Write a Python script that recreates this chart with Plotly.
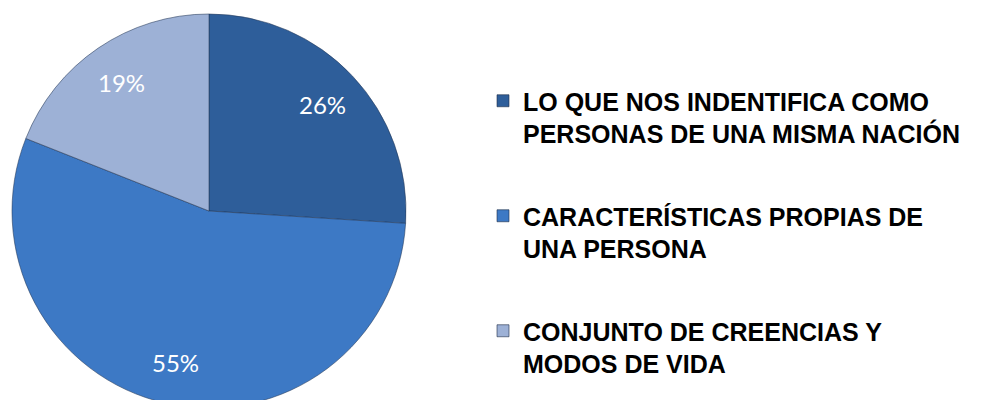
import math
import plotly.graph_objects as go

labels = [
    "LO QUE NOS INDENTIFICA COMO<br>PERSONAS DE UNA MISMA NACIÓN",
    "CARACTERÍSTICAS PROPIAS DE<br>UNA PERSONA",
    "CONJUNTO DE CREENCIAS Y<br>MODOS DE VIDA",
]
values = [26, 55, 19]
colors = ["#2E5E9A", "#3D79C5", "#9DB1D6"]

W, H = 988, 416
cx, cy, R = 209, 211, 197  # pixel geometry of the pie

fig = go.Figure(go.Pie(
    labels=labels,
    values=values,
    sort=False,
    direction="clockwise",
    rotation=0,
    textinfo="none",
    hoverinfo="label+percent",
    showlegend=False,
    marker=dict(colors=colors, line=dict(color="rgba(35,55,85,0.55)", width=1)),
    domain=dict(x=[(cx - R) / W, (cx + R) / W], y=[(H - cy - R) / H, (H - cy + R) / H]),
))

# legend entries (one group per category so the gaps can be set)
for i, (lab, col) in enumerate(zip(labels, colors)):
    fig.add_trace(go.Scatter(
        x=[None], y=[None], mode="markers", name=lab, legendgroup=f"g{i}",
        marker=dict(symbol="square", size=12, color=col,
                    line=dict(color="rgba(30,45,70,0.6)", width=1)),
        hoverinfo="skip",
    ))

# percentage labels placed along each slice bisector
total = sum(values)
cum = 0
for v in values:
    ang = math.radians(90 - 360 * (cum + v / 2) / total)
    cum += v
    r = 0.79 * R
    px = cx + r * math.cos(ang)
    py = cy - r * math.sin(ang)
    fig.add_annotation(
        x=px / W, y=1 - py / H, xref="paper", yref="paper",
        xanchor="center", yanchor="middle",
        text=f"{round(100 * v / total)}%", showarrow=False,
        font=dict(family="Lato", size=24, color="white"),
    )

fig.update_layout(
    width=W, height=H,
    margin=dict(l=0, r=0, t=0, b=0),
    paper_bgcolor="white",
    plot_bgcolor="rgba(0,0,0,0)",
    xaxis=dict(visible=False),
    yaxis=dict(visible=False),
    showlegend=True,
    legend=dict(
        x=483 / W, y=1 - 78 / H, xanchor="left", yanchor="top",
        font=dict(family="Liberation Sans", size=25, color="black", weight="bold"),
        valign="top", tracegroupgap=47,
        bgcolor="rgba(0,0,0,0)",
    ),
)

fig.write_html(
    "out.html",
    config={"displayModeBar": False},
    post_script="document.body.style.margin='0';document.body.style.overflow='hidden';document.documentElement.style.overflow='hidden';",
)
